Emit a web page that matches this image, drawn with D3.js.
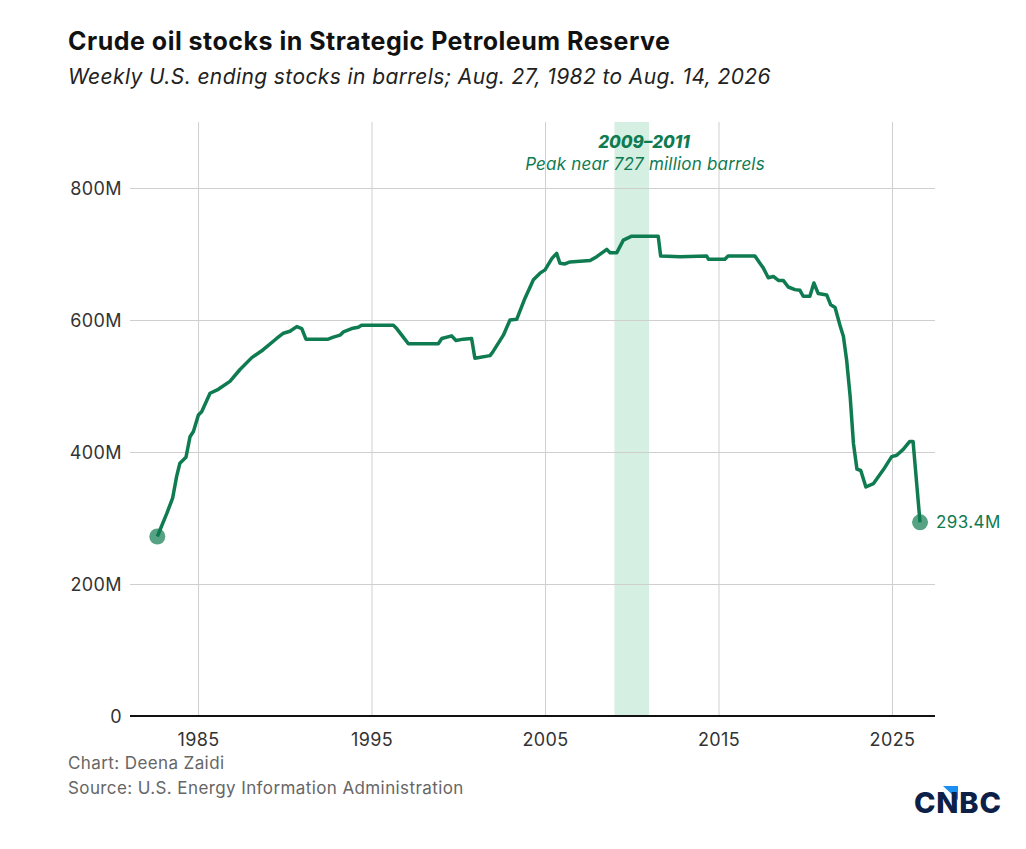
<!DOCTYPE html>
<html>
<head>
<meta charset="utf-8">
<script src="https://cdn.jsdelivr.net/npm/d3@7"></script>
<style>
  body { margin: 0; background: #fff; }
  svg { display: block; font-family: Inter, "Noto Sans", sans-serif; }
  .grid line { stroke: #cfcfcf; stroke-width: 1; }
  .grid .domain { display: none; }
  .ylab text, .xlab text { fill: #333; font-size: 18px; letter-spacing: 0.4px; font-family: Inter, sans-serif; }
</style>
</head>
<body>
<div id="chart"></div>
<script>
// weekly SPR ending stocks (million barrels)
var dates = [
  "1982-08-27","1983-03-15","1983-07-15","1983-10-08","1983-12-15","1984-04-22","1984-07-15","1984-09-25",
  "1985-01-08","1985-03-18","1985-09-10","1986-03-03","1986-11-03","1987-06-03","1988-02-06","1988-10-04",
  "1989-07-13","1989-12-03","1990-04-20","1990-09-10","1990-12-25","1991-03-22","1992-07-01","1992-10-20",
  "1993-03-08","1993-05-20","1993-11-10","1994-03-28","1994-06-05","1996-04-05","1996-06-14","1996-09-28",
  "1997-02-14","1998-11-06","1999-01-19","1999-08-15","1999-11-14","2000-04-15","2000-10-08","2000-12-16",
  "2001-10-30","2002-01-01","2002-08-08","2002-12-25","2003-05-15","2003-11-06","2004-05-01","2004-09-17",
  "2005-01-01","2005-05-23","2005-09-02","2005-11-10","2006-02-24","2006-06-10","2007-08-08","2007-12-25",
  "2008-07-24","2008-10-01","2009-02-20","2009-07-08","2010-01-01","2011-07-12","2011-09-01","2012-10-20",
  "2014-04-27","2014-06-03","2015-05-15","2015-07-22","2017-02-06","2017-05-22","2017-07-30","2017-11-14",
  "2018-02-28","2018-06-15","2018-09-25","2019-01-08","2019-05-30","2019-09-12","2019-11-20","2020-04-08",
  "2020-07-01","2020-10-01","2021-03-28","2021-06-20","2021-09-20","2022-01-01","2022-03-15","2022-05-22",
  "2022-08-04","2022-10-12","2022-12-25","2023-03-15","2023-07-01","2023-12-05","2024-07-01","2024-12-25",
  "2025-04-10","2025-08-25","2026-01-10","2026-03-20","2026-08-14"
];
var stocks = [
  272, 307, 330, 363, 383, 392, 423, 431,
  456, 461, 489, 495, 507, 525, 543, 555,
  572, 580, 583, 590, 587, 571, 571, 574,
  577, 582, 587, 589, 592, 592, 587, 577,
  564, 564, 572, 576, 569, 571, 572, 542,
  546, 552, 577, 600, 601, 633, 661, 671,
  676, 693, 701, 686, 685, 688, 690, 696,
  707, 702, 702, 721, 727, 727, 697, 696,
  697, 692, 692, 697, 697, 686, 679, 664,
  666, 660, 660, 650, 646, 645, 636, 636,
  656, 640, 638, 623, 619, 592, 575, 539,
  484, 413, 374, 372, 347, 352, 373, 393,
  395, 404, 416, 416, 293.4
];
var yTicks = [0, 200, 400, 600, 800];
var xTickYears = [1985, 1995, 2005, 2015, 2025];
var peakBand = ["2009-01-01", "2011-01-01"];

var W = 1026, H = 849;
var mLeft = 130, mRight = 935, mTop = 122, mBottom = 716;
var green = "#0f7b51";
var parse = d3.timeParse("%Y-%m-%d");

var data = dates.map(function(d, i) { return { date: parse(d), value: stocks[i] }; });

var svg = d3.select("#chart").append("svg")
  .attr("width", W)
  .attr("height", H);

var x = d3.scaleTime()
  .domain([new Date(1981, 0, 29), new Date(2027, 5, 25)])
  .range([mLeft, mRight]);

var y = d3.scaleLinear()
  .domain([0, 900])
  .range([mBottom, mTop]);

var xTickDates = xTickYears.map(function(yr) { return new Date(yr, 0, 1); });

// shaded 2009-2011 band
svg.append("rect")
  .attr("x", x(parse(peakBand[0])))
  .attr("width", x(parse(peakBand[1])) - x(parse(peakBand[0])))
  .attr("y", mTop)
  .attr("height", mBottom - mTop)
  .attr("fill", "#d6efe3");

// gridlines
svg.append("g")
  .attr("class", "grid")
  .attr("transform", "translate(" + mLeft + ",0)")
  .call(d3.axisLeft(y).tickValues(yTicks.slice(1)).tickSize(-(mRight - mLeft)).tickFormat(""));

svg.append("g")
  .attr("class", "grid")
  .attr("transform", "translate(0," + mBottom + ")")
  .call(d3.axisBottom(x).tickValues(xTickDates).tickSize(-(mBottom - mTop)).tickFormat(""));

// axis labels
var ylab = svg.append("g")
  .attr("class", "ylab")
  .attr("transform", "translate(" + (mLeft - 8) + ",0)")
  .call(d3.axisLeft(y).tickValues(yTicks).tickSize(0)
    .tickFormat(function(d) { return d === 0 ? "0" : d + "M"; }));
ylab.select(".domain").remove();
ylab.selectAll("text").attr("dy", "0.36em").attr("x", 0);

var xlab = svg.append("g")
  .attr("class", "xlab")
  .attr("transform", "translate(0," + mBottom + ")")
  .call(d3.axisBottom(x).tickValues(xTickDates).tickSize(0).tickFormat(d3.timeFormat("%Y")));
xlab.select(".domain").remove();
xlab.selectAll("text").attr("y", 30).attr("dy", 0);

// zero baseline
svg.append("line")
  .attr("x1", mLeft).attr("x2", mRight)
  .attr("y1", y(0)).attr("y2", y(0))
  .attr("stroke", "#111")
  .attr("stroke-width", 2);

// the line
var line = d3.line()
  .x(function(d) { return x(d.date); })
  .y(function(d) { return y(d.value); });

svg.append("path")
  .datum(data)
  .attr("d", line)
  .attr("fill", "none")
  .attr("stroke", green)
  .attr("stroke-width", 3.5)
  .attr("stroke-linejoin", "round");

// start / end dots
var ends = [data[0], data[data.length - 1]];
svg.selectAll(".dot")
  .data(ends)
  .enter()
  .append("circle")
  .attr("class", "dot")
  .attr("cx", function(d) { return x(d.date); })
  .attr("cy", function(d) { return y(d.value); })
  .attr("r", 8)
  .attr("fill", green)
  .attr("fill-opacity", 0.7);

var last = data[data.length - 1];
svg.append("text")
  .attr("x", x(last.date) + 16)
  .attr("y", y(last.value) + 6)
  .attr("fill", green)
  .style("font-size", "17px")
  .style("letter-spacing", "0.4px")
  .text(last.value + "M");

// annotation
svg.append("text")
  .attr("x", 644)
  .attr("y", 148)
  .attr("text-anchor", "middle")
  .attr("fill", green)
  .style("font-size", "17px")
  .style("font-weight", "800")
  .style("font-style", "italic")
  .text("2009\u20132011");

svg.append("text")
  .attr("x", 645)
  .attr("y", 170)
  .attr("text-anchor", "middle")
  .attr("fill", green)
  .style("font-size", "17px")
  .style("font-style", "italic")
  .style("letter-spacing", "0.2px")
  .text("Peak near 727 million barrels");

// titles
svg.append("text")
  .attr("x", 68)
  .attr("y", 50)
  .attr("fill", "#111")
  .style("font-size", "25px")
  .style("font-weight", "700")
  .style("letter-spacing", "0.5px")
  .text("Crude oil stocks in Strategic Petroleum Reserve");

svg.append("text")
  .attr("x", 68)
  .attr("y", 84)
  .attr("fill", "#222")
  .style("font-size", "21px")
  .style("font-style", "italic")
  .style("letter-spacing", "0.4px")
  .text("Weekly U.S. ending stocks in barrels; Aug. 27, 1982 to Aug. 14, 2026");

// footer
svg.append("text")
  .attr("x", 68)
  .attr("y", 769)
  .attr("fill", "#666")
  .style("font-size", "17px")
  .style("letter-spacing", "0.4px")
  .text("Chart: Deena Zaidi");

svg.append("text")
  .attr("x", 68)
  .attr("y", 794)
  .attr("fill", "#666")
  .style("font-size", "17px")
  .style("letter-spacing", "0.4px")
  .text("Source: U.S. Energy Information Administration");

// logo
svg.append("path")
  .attr("d", "M943,786 L958,786 L958,800 Z")
  .attr("fill", "#1a8ff0");
svg.append("text")
  .attr("x", 914)
  .attr("y", 813)
  .attr("fill", "#0c2048")
  .style("font-size", "29px")
  .style("font-weight", "800")
  .style("letter-spacing", "0.8px")
  .text("CNBC");
</script>
</body>
</html>
